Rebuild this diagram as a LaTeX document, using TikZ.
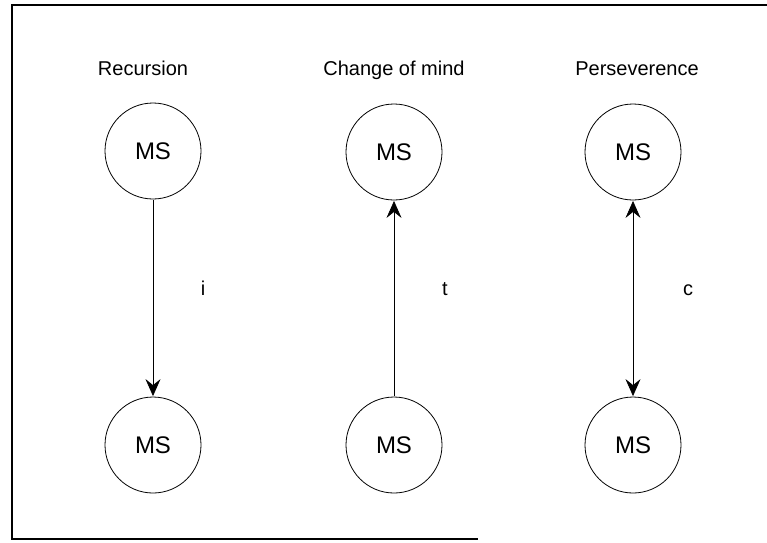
\documentclass[tikz,border=0pt]{standalone}
\usepackage{fontspec}
\setmainfont{Liberation Sans}
\usetikzlibrary{arrows.meta}
\begin{document}
\begin{tikzpicture}[x=1pt,y=-1pt,
  state/.style={draw, circle, line width=0.8pt, minimum size=96pt, inner sep=0pt,
    font=\fontsize{24}{28}\selectfont},
  title/.style={anchor=base, inner sep=0pt, font=\fontsize{20}{24}\selectfont},
  edgelabel/.style={anchor=base, inner sep=0pt, font=\fontsize{20}{24}\selectfont},
  link/.style={line width=0.7pt, shorten <=0.5pt, shorten >=0.5pt},
  tip/.tip={Stealth[length=17pt, width=15pt, inset=6pt]}
]
\useasboundingbox (0,0) rectangle (767,542);

% open frame
\draw[line width=1.4pt] (767,5) -- (12,5) -- (12,539) -- (478,539);

% column titles
\node[title] (t1) at (143,75) {Recursion};
\node[title] (t2) at (394,75) {Change of mind};
\node[title] (t3) at (637,75) {Perseverence};

% mental states
\node[state] (a1) at (153,151) {MS};
\node[state] (b1) at (153,445) {MS};
\node[state] (a2) at (394,152) {MS};
\node[state] (b2) at (394,445) {MS};
\node[state] (a3) at (633,152) {MS};
\node[state] (b3) at (633,445) {MS};

% connectors
\draw[link, -{tip}] (a1) -- (b1);
\draw[link, -{tip}] (b2) -- (a2);
\draw[link, {tip}-{tip}] (a3) -- (b3);

% connector labels
\node[edgelabel] (li) at (203,295) {i};
\node[edgelabel] (lt) at (445,295) {t};
\node[edgelabel] (lc) at (688,295) {c};
\end{tikzpicture}
\end{document}
